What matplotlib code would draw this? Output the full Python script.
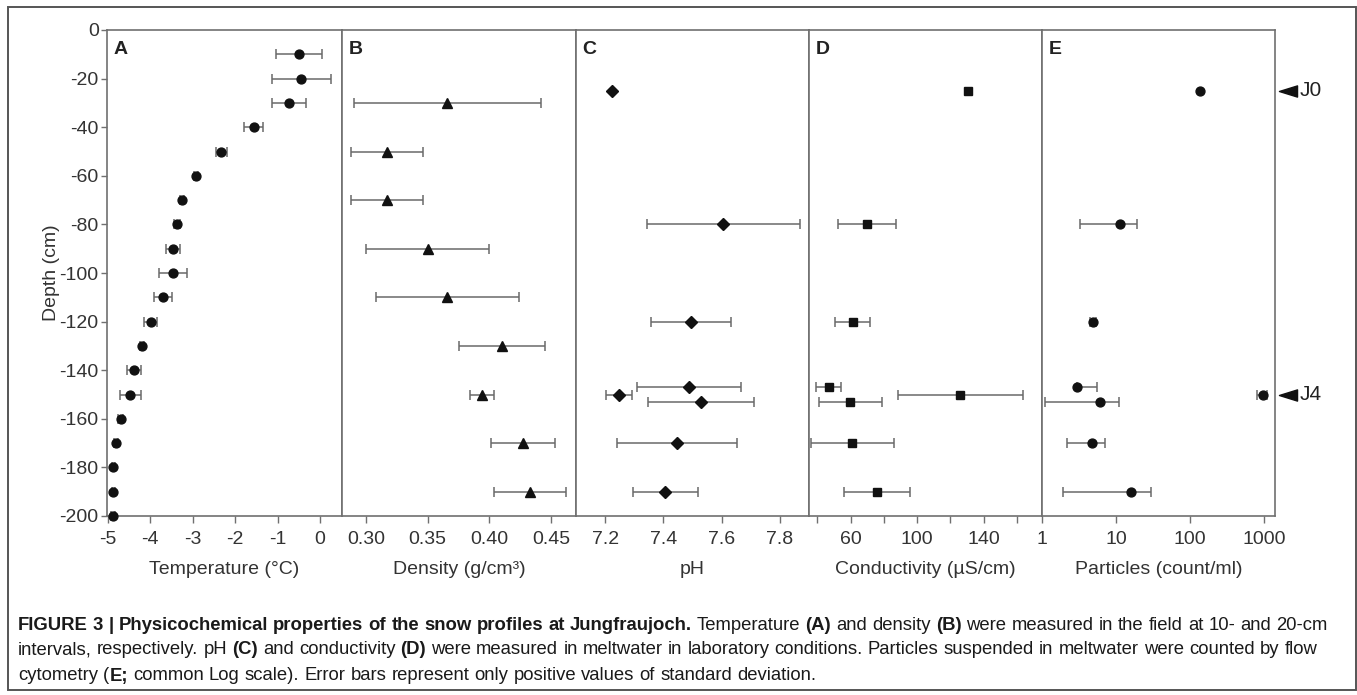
import numpy as np
import matplotlib
matplotlib.use('Agg')
import matplotlib.pyplot as plt
from matplotlib.patches import Rectangle
from matplotlib.path import Path
import matplotlib.transforms as mtransforms

# ---------------------------------------------------------------- data
temp_depth = [-10, -20, -30, -40, -50, -60, -70, -80, -90, -100,
              -110, -120, -130, -140, -150, -160, -170, -180, -190, -200]
temp = [-0.50, -0.44, -0.74, -1.56, -2.33, -2.92, -3.25, -3.37, -3.47, -3.47,
        -3.70, -3.99, -4.19, -4.39, -4.47, -4.70, -4.81, -4.87, -4.87, -4.87]
temp_sd = [0.54, 0.70, 0.40, 0.22, 0.13, 0.05, 0.04, 0.06, 0.16, 0.33,
           0.21, 0.16, 0.05, 0.16, 0.24, 0.05, 0.05, 0.04, 0.04, 0.05]

density_depth = [-30, -50, -70, -90, -110, -130, -150, -170, -190]
density = [0.366, 0.317, 0.317, 0.350, 0.366, 0.410, 0.394, 0.427, 0.433]
density_sd = [0.076, 0.029, 0.029, 0.050, 0.058, 0.035, 0.010, 0.026, 0.029]

chem_depth = [-25, -80, -120, -147, -150, -153, -170, -190]
ph = [7.224, 7.606, 7.494, 7.488, 7.247, 7.529, 7.447, 7.407]
ph_sd = [0, 0.262, 0.137, 0.178, 0.045, 0.182, 0.207, 0.112]
cond = [130.6, 70.0, 61.2, 46.8, 126.0, 59.8, 61.0, 75.6]
cond_sd = [0, 17.3, 10.4, 7.7, 37.3, 18.8, 24.8, 19.8]
particles = [134, 11.3, 4.9, 3.0, 950, 6.1, 4.7, 15.9]
particles_sd = [0, 8.0, 0.4, 2.6, 145, 5.0, 2.5, 14.0]

profile_marks = [('J0', -25), ('J4', -150)]

caption_lines = [
    [('FIGURE 3 | Physicochemical properties of the snow profiles at Jungfraujoch.', True),
     (' Temperature ', False), ('(A)', True), (' and density ', False), ('(B)', True),
     (' were measured in the field at 10- and 20-cm', False)],
    [('intervals, respectively. pH ', False), ('(C)', True), (' and conductivity ', False),
     ('(D)', True), (' were measured in meltwater in laboratory conditions. Particles '
                     'suspended in meltwater were counted by flow', False)],
    [('cytometry (', False), ('E;', True),
     (' common Log scale). Error bars represent only positive values of standard deviation.', False)],
]

# ---------------------------------------------------------------- style
W, H = 1357, 695
plt.rcParams['font.family'] = ['Liberation Sans', 'DejaVu Sans']
plt.rcParams['axes.unicode_minus'] = False
spine_col = '#707070'
text_col = '#333333'
bar_col = '#6a6a6a'
tick_size = 14

fig = plt.figure(figsize=(W / 100, H / 100), dpi=100)

top, bottom = 30, 516
edges = [107, 342, 576, 809, 1042, 1275]


def make_ax(i):
    x0, x1 = edges[i], edges[i + 1]
    ax = fig.add_axes([x0 / W, (H - bottom) / H, (x1 - x0) / W, (bottom - top) / H])
    for s in ax.spines.values():
        s.set_color(spine_col)
        s.set_linewidth(1.2)
    ax.set_ylim(-200, 0)
    ax.tick_params(axis='x', which='both', direction='out', length=5, width=1,
                   color=spine_col, labelsize=tick_size, labelcolor=text_col, pad=5.5)
    ax.tick_params(axis='y', which='both', direction='out', length=4, width=1,
                   color=spine_col, labelsize=tick_size, labelcolor=text_col, pad=2)
    if i > 0:
        ax.tick_params(axis='y', left=False, labelleft=False)
    ax.text(0.028, 0.978, 'ABCDE'[i], transform=ax.transAxes, ha='left', va='top',
            fontsize=14, fontweight='bold', color='#222222')
    return ax


def draw_points(ax, x, y, sd, marker, ms, floor=None):
    x = np.asarray(x, float)
    y = np.asarray(y, float)
    sd = np.asarray(sd, float)
    has = sd > 0
    lo = sd.copy()
    if floor is not None:
        # bars running past the axis minimum are not drawn on that side
        lo[x - sd < floor] = 0
    ax.errorbar(x[has], y[has], xerr=[lo[has], sd[has]], fmt='none', ecolor=bar_col,
                elinewidth=1.1, capsize=3.6, capthick=1.1, zorder=2, clip_on=False)
    ax.plot(x, y, linestyle='none', marker=marker, ms=ms, color='#111111',
            markeredgecolor='#111111', zorder=3, clip_on=False)


axA = make_ax(0)
draw_points(axA, temp, temp_depth, temp_sd, 'o', 6.4)
axA.set_xlim(-5.02, 0.52)
axA.set_xticks([-5, -4, -3, -2, -1, 0])
axA.set_yticks(np.arange(-200, 1, 20))
axA.set_xlabel('Temperature (°C)', fontsize=tick_size, color=text_col, labelpad=10)
axA.set_ylabel('Depth (cm)', fontsize=tick_size, color=text_col)
axA.yaxis.set_label_coords(-0.2, 0.5)

axB = make_ax(1)
draw_points(axB, density, density_depth, density_sd, '^', 6.6)
axB.set_xlim(0.2806, 0.4702)
axB.set_xticks([0.30, 0.35, 0.40, 0.45])
axB.set_xticklabels(['0.30', '0.35', '0.40', '0.45'])
axB.set_xlabel('Density (g/cm³)', fontsize=tick_size, color=text_col, labelpad=10)

axC = make_ax(2)
draw_points(axC, ph, chem_depth, ph_sd, 'D', 5.7)
axC.set_xlim(7.10, 7.90)
axC.set_xticks([7.2, 7.4, 7.6, 7.8])
axC.set_xlabel('pH', fontsize=tick_size, color=text_col, labelpad=10)

axD = make_ax(3)
draw_points(axD, cond, chem_depth, cond_sd, 's', 5.7)
axD.set_xlim(35, 175)
axD.set_xticks([60, 100, 140])
axD.set_xticks([40, 80, 120, 160], minor=True)
axD.set_xlabel('Conductivity (µS/cm)', fontsize=tick_size, color=text_col, labelpad=10)

axE = make_ax(4)
axE.set_xscale('log')
axE.set_xlim(1, 1400)
draw_points(axE, particles, chem_depth, particles_sd, 'o', 6.4, floor=1)
axE.set_xticks([1, 10, 100, 1000])
axE.set_xticklabels(['1', '10', '100', '1000'])
axE.xaxis.set_minor_locator(matplotlib.ticker.NullLocator())
axE.set_xlabel('Particles (count/ml)', fontsize=tick_size, color=text_col, labelpad=10)

# profile arrows to the right of panel E
arrow = Path([(-1.0, 0.0), (1.0, 0.62), (1.0, -0.62), (-1.0, 0.0)],
             [Path.MOVETO, Path.LINETO, Path.LINETO, Path.CLOSEPOLY])
blend = mtransforms.blended_transform_factory(axE.transAxes, axE.transData)
for name, d in profile_marks:
    axE.plot([1.054], [d], marker=arrow, ms=13, color='#111111', transform=blend,
             clip_on=False, linestyle='none')
    axE.text(1.106, d, name, transform=blend, ha='left', va='center',
             fontsize=15, color='#222222', clip_on=False)

# outer frame
fig.patches.append(Rectangle((7.5 / W, 5 / H), 1348 / W, (688 - 5) / H,
                             transform=fig.transFigure, fill=False,
                             edgecolor='#555555', linewidth=1.4))

# ---------------------------------------------------------------- caption
cap_family = ['Liberation Sans Narrow', 'Liberation Sans', 'DejaVu Sans']
renderer = fig.canvas.get_renderer()


def text_w(s, size, bold):
    t = fig.text(0, 0, s, fontsize=size, fontweight='bold' if bold else 'normal',
                 family=cap_family)
    w = t.get_window_extent(renderer).width
    t.remove()
    return w


def rich_line(x0, y0, segs, size, draw=True):
    sp = text_w('n n', size, False) - text_w('nn', size, False)
    x = x0
    for s, bold in segs:
        words = s.split(' ')
        for k, wd in enumerate(words):
            if k > 0:
                x += sp
            if wd == '':
                continue
            if draw:
                t = fig.text(x / W, (H - y0) / H, wd, fontsize=size, va='center',
                             ha='left', fontweight='bold' if bold else 'normal',
                             family=cap_family, color='#1a1a1a')
                x += t.get_window_extent(renderer).width
            else:
                x += text_w(wd, size, bold)
    return x


base = 11.5
w1 = rich_line(18, 625, caption_lines[0], base, draw=False) - 18
cap_size = base * 1322.0 / w1
for line, yy in zip(caption_lines, [625, 650, 676]):
    rich_line(18, yy, line, cap_size)

fig.savefig('out.png', dpi=100)
